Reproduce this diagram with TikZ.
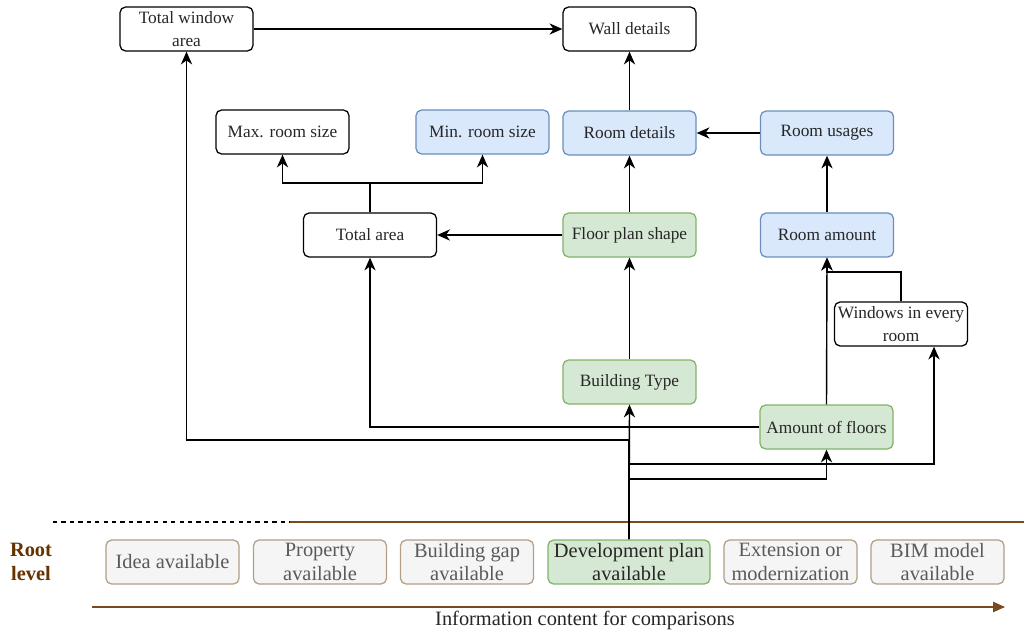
\documentclass[tikz,border=0pt]{standalone}
\usepackage{fontspec}
\setmainfont{Liberation Serif}
\usetikzlibrary{arrows.meta}
\definecolor{blueFill}{HTML}{DAE8FC}
\definecolor{blueLine}{HTML}{6C8EBF}
\definecolor{greenFill}{HTML}{D5E8D4}
\definecolor{greenLine}{HTML}{82B366}
\definecolor{rootFill}{HTML}{F5F5F5}
\definecolor{rootLine}{HTML}{B39E87}
\definecolor{rootText}{HTML}{5A5A5A}
\definecolor{brownLine}{HTML}{7A4A1F}
\definecolor{rootBrown}{HTML}{663300}

\begin{document}
\begin{tikzpicture}[x=0.025cm, y=-0.025cm,
  every node/.style={font=\fontsize{12.3}{16}\selectfont, text=black!85},
  box/.style={draw, line width=0.9pt, rounded corners=4pt, fill=white,
    minimum width=3.325cm, minimum height=1.1cm, align=center, inner sep=1pt},
  bluebox/.style={box, draw=blueLine, fill=blueFill},
  greenbox/.style={box, draw=greenLine, fill=greenFill},
  rootbox/.style={box, draw=rootLine, fill=rootFill, text=rootText,
    font=\fontsize{14.5}{17}\selectfont},
  devbox/.style={rootbox, draw=greenLine, fill=greenFill, text=black!85,
    minimum width=4.05cm},
  arr/.style={line width=1pt, -{Stealth[length=3.2mm, width=2.8mm, inset=1mm]}}]
  \useasboundingbox (0,0) rectangle (1024,632);

  % upper graph
  \node[box] (twa) at (186.5,29) {Total window\\area};
  \node[box] (wall) at (629.5,29) {Wall details};
  \node[box] (maxr) at (282.5,132) {Max. room size};
  \node[bluebox] (minr) at (482.5,132) {Min. room size};
  \node[bluebox] (rdet) at (629.5,133) {Room details};
  \node[bluebox] (ruse) at (827,133) {Room usages};
  \node[box] (tarea) at (370,235) {Total area};
  \node[greenbox] (fps) at (629.5,235) {Floor plan shape};
  \node[bluebox] (ramount) at (827,235) {Room amount};
  \node[box] (win) at (901,324) {Windows in every\\room};
  \node[greenbox] (btype) at (629.5,382) {Building Type};
  \node[greenbox] (floors) at (826.5,427) {Amount of floors};

  % root level
  \foreach \nm/\cx/\sty/\txt in {idea/172.5/rootbox/Idea available,
      prop/320/rootbox/Property\\available, gap/467/rootbox/Building gap\\available,
      dev/629/devbox/Development plan\\available,
      ext/790.5/rootbox/Extension or\\modernization, bim/937.5/rootbox/BIM model\\available} {
    \node[\sty] (\nm) at (\cx,562) {\txt};
  }
  \node[font=\bfseries\fontsize{14.5}{17.5}\selectfont, text=rootBrown, align=center] (root) at (31,562) {Root\\level};
  \draw[dashed, line width=0.8pt] (53,522) -- (290,522);
  \draw[brownLine, line width=0.9pt] (290,522) -- (1024,522);
  \draw[brownLine, line width=0.9pt, -{Stealth[length=3mm, width=2.6mm, inset=0pt]}] (92,607) -- (1005,607);
  \node[font=\fontsize{14.5}{17}\selectfont] (axis) at (585,620) {Information content for comparisons};

  % connectors
  \draw[arr] (dev.north) -- (btype.south);
  \draw[arr] (dev.north) -- (dev.north |- 0,479) -| (floors.south);
  \draw[arr] (dev.north) -- (dev.north |- 0,464) -| ([xshift=0.825cm]win.south);
  \draw[arr] (dev.north) -- (dev.north |- 0,440) -| (twa.south);
  \draw[arr] (floors.west) -| (tarea.south);
  \draw[arr] (floors.north) -- (ramount.south);
  \draw[arr] (win.north) |- (ramount.south |- 0,272) -- (ramount.south);
  \draw[arr] (btype.north) -- (fps.south);
  \draw[arr] (fps.west) -- (tarea.east);
  \draw[arr] (fps.north) -- (rdet.south);
  \draw[arr] (ramount.north) -- (ruse.south);
  \draw[arr] (ruse.west) -- (rdet.east);
  \draw[arr] (rdet.north) -- (wall.south);
  \draw[arr] (twa.east) -- (wall.west);
  \draw[arr] (tarea.north) -- (tarea.north |- 0,183) -| (maxr.south);
  \draw[arr] (tarea.north) -- (tarea.north |- 0,183) -| (minr.south);
\end{tikzpicture}
\end{document}
